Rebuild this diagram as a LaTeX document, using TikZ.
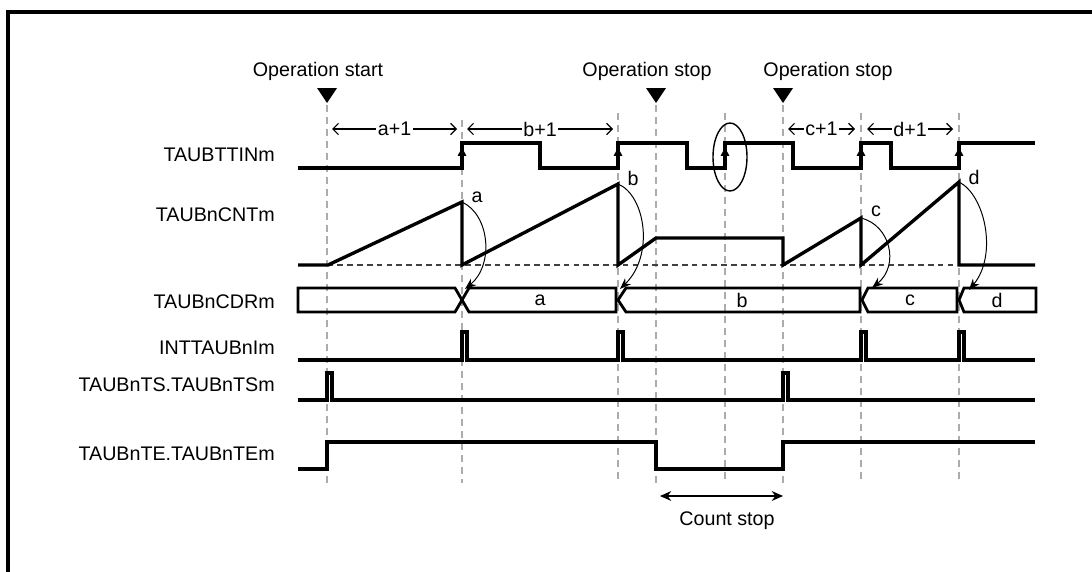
\documentclass[tikz,border=0pt]{standalone}
\usepackage{fontspec}
\setmainfont{Liberation Sans}
\usetikzlibrary{arrows.meta}

\begin{document}
\begin{tikzpicture}[
    x=0.025cm, y=-0.025cm,
    font=\fontsize{14}{16.8}\selectfont,
    siglabel/.style={anchor=east, inner sep=0pt},
    wave/.style={line width=2.4pt, line join=miter},
    bus/.style={line width=2pt, line join=miter},
    guide/.style={gray!65, line width=0.8pt, dash pattern=on 5pt off 3.5pt},
    zeroline/.style={black!75, line width=0.9pt, dash pattern=on 4pt off 3pt},
    span/.style={{Straight Barb[length=4pt,width=8pt]}-{Straight Barb[length=4pt,width=8pt]}, line width=0.8pt},
    spanlabel/.style={fill=white, inner xsep=1pt, inner ysep=0pt},
    riseedge/.style={-{Latex[length=7pt,width=6.5pt]}, line width=0.9pt},
    copyarrow/.style={-{Stealth[length=8pt,width=6pt]}, line width=0.7pt},
    marker/.style={fill=black}
]
    \useasboundingbox (0,0) rectangle (1092,572);
    \draw[line width=2.2pt] (8,572) -- (8,12) -- (1092,12);

    % guide lines
    \foreach \x/\top in {327/105, 462/120, 618/113, 656/105, 725/113, 783/105, 861/113, 959/113}
        \draw[guide] (\x,\top) -- (\x,483);

    % operation markers
    \node (opstart) at (318,71) {Operation start};
    \node (opstopa) at (647,71) {Operation stop};
    \node (opstopb) at (828,71) {Operation stop};
    \fill[marker] (317,88) -- (337,88) -- (327,103) -- cycle;
    \fill[marker] (646,88) -- (666,88) -- (656,103) -- cycle;
    \fill[marker] (773,88) -- (793,88) -- (783,103) -- cycle;

    % signal names
    \node[siglabel] (ttin) at (275,155) {TAUBTTINm};
    \node[siglabel] (cnt)  at (275,215) {TAUBnCNTm};
    \node[siglabel] (cdr)  at (275,302) {TAUBnCDRm};
    \node[siglabel] (intt) at (275,348) {INTTAUBnIm};
    \node[siglabel] (ts)   at (275,385) {TAUBnTS.TAUBnTSm};
    \node[siglabel] (te)   at (275,454) {TAUBnTE.TAUBnTEm};

    % periods
    \draw[span] (332,129) -- node[spanlabel] (spana) {a+1} (457,129);
    \draw[span] (467,129) -- node[spanlabel] (spanb) {b+1} (613,129);
    \draw[span] (788,129) -- node[spanlabel] (spanc) {c+1} (855,129);
    \draw[span] (867,129) -- node[spanlabel] (spand) {d+1} (953,129);

    % TAUBTTINm
    \draw[wave] (298,168) -- (462,168) -- (462,143) -- (540,143) -- (540,168) -- (618,168)
        -- (618,143) -- (687,143) -- (687,168) -- (725,168) -- (725,143) -- (793,143)
        -- (793,168) -- (861,168) -- (861,143) -- (891,143) -- (891,168) -- (959,168)
        -- (959,143) -- (1035,143);
    \foreach \x in {462, 618, 725, 861, 959}
        \draw[riseedge] (\x,168) -- (\x,146);
    \draw[line width=1pt] (730,157) ellipse [x radius=17, y radius=34];

    % TAUBnCNTm
    \draw[zeroline] (298,265) -- (1035,265);
    \draw[wave] (298,265) -- (328,265) -- (462,202) -- (462,265) -- (618,184) -- (618,265)
        -- (656,238) -- (783,238) -- (783,265) -- (861,218) -- (861,265) -- (959,182)
        -- (959,265) -- (1035,265);
    \coordinate (pka) at (462,202);
    \coordinate (pkb) at (618,184);
    \coordinate (pkc) at (861,218);
    \coordinate (pkd) at (959,182);
    \node (vala) at (477,197) {a};
    \node (valb) at (633,178) {b};
    \node (valc) at (876,211) {c};
    \node (vald) at (974,177) {d};

    % TAUBnCDRm
    \draw[bus] (298,288) -- (455,288) -- (462,300) -- (455,312) -- (298,312) -- cycle;
    \draw[bus] (462,300) -- (469,288) -- (616,288) -- (616,312) -- (469,312) -- cycle;
    \draw[bus] (618,300) -- (626,288) -- (860,288) -- (860,312) -- (626,312) -- cycle;
    \draw[bus] (862,300) -- (868,288) -- (957,288) -- (957,312) -- (868,312) -- cycle;
    \draw[bus] (959,300) -- (964,288) -- (1036,288) -- (1036,312) -- (964,312) -- cycle;
    \node (cdra) at (540,300) {a};
    \node (cdrb) at (742,300) {b};
    \node (cdrc) at (910,300) {c};
    \node (cdrd) at (997,300) {d};
    \coordinate (lda) at (465,289);
    \coordinate (ldb) at (620,289);
    \coordinate (ldc) at (872,288);
    \coordinate (ldd) at (969,290);
    \draw[copyarrow] (pka) .. controls (490,215) and (494,265) .. (lda);
    \draw[copyarrow] (pkb) .. controls (645,195) and (655,255) .. (ldb);
    \draw[copyarrow] (pkc) .. controls (890,225) and (900,265) .. (ldc);
    \draw[copyarrow] (pkd) .. controls (985,195) and (998,255) .. (ldd);

    % INTTAUBnIm
    \draw[wave] (298,360) -- (462,360) -- (462,332) -- (467,332) -- (467,360) -- (618,360)
        -- (618,332) -- (623,332) -- (623,360) -- (861,360) -- (861,332) -- (866,332)
        -- (866,360) -- (959,360) -- (959,332) -- (964,332) -- (964,360) -- (1035,360);

    % TAUBnTS.TAUBnTSm
    \draw[wave] (298,400) -- (327,400) -- (327,373) -- (332,373) -- (332,400) -- (783,400)
        -- (783,373) -- (788,373) -- (788,400) -- (1035,400);

    % TAUBnTE.TAUBnTEm
    \draw[wave] (298,469) -- (327,469) -- (327,442) -- (656,442) -- (656,469) -- (783,469)
        -- (783,442) -- (1035,442);

    % count stop
    \coordinate (csl) at (660,496);
    \coordinate (csr) at (783,496);
    \draw[{Stealth[length=8pt,width=7pt]}-{Stealth[length=8pt,width=7pt]}, line width=0.8pt] (csl) -- (csr);
    \node (countstop) at (727,521) {Count stop};
\end{tikzpicture}
\end{document}
